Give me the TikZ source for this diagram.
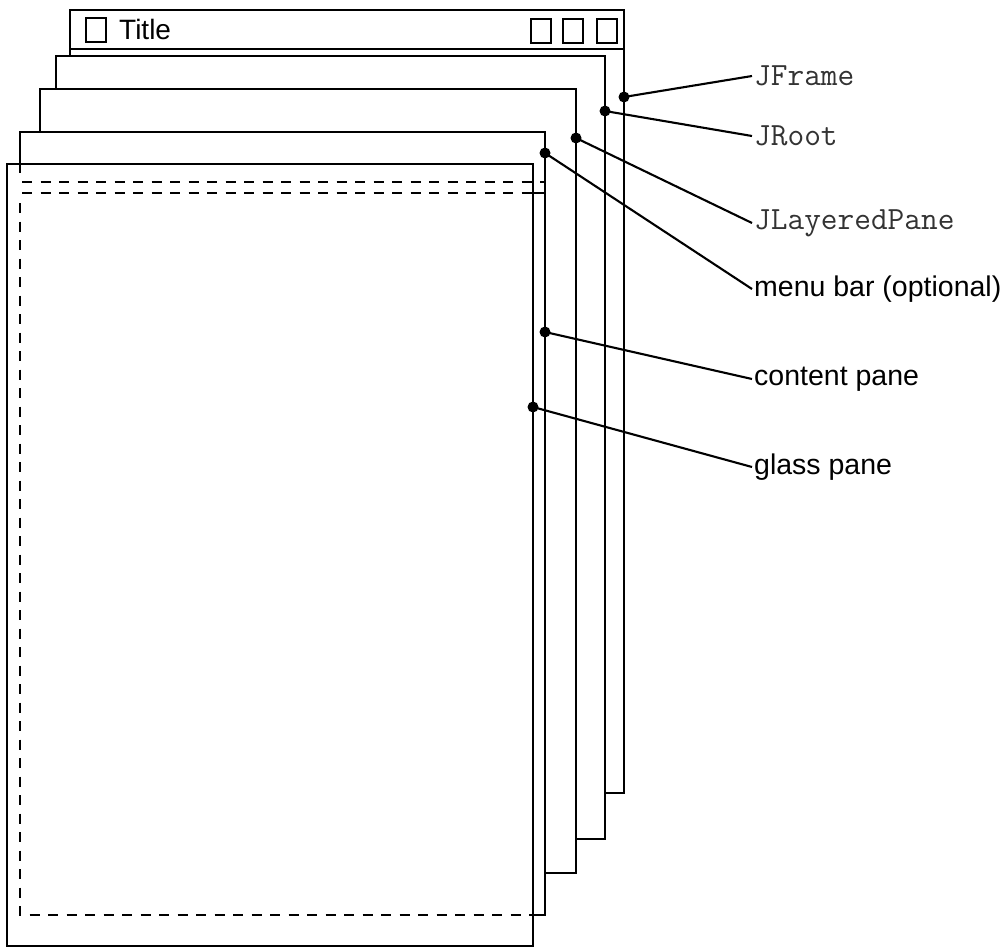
\documentclass[tikz,border=0pt]{standalone}
\usepackage{fontspec}
\setmainfont{Liberation Sans}
\begin{document}
\begin{tikzpicture}[x=1pt,y=-1pt,
  pane/.style={draw=black,fill=white,line width=2.1pt},
  icon/.style={draw=black,line width=2.1pt},
  dashline/.style={draw=black,line width=2.6pt,dash pattern=on 10pt off 8.5pt},
  leader/.style={draw=black,line width=2.1pt},
  dotm/.style={fill=black},
  sanslbl/.style={anchor=west,inner sep=0pt,inner xsep=2pt,font=\fontsize{28.5}{30}\selectfont},
  monolbl/.style={anchor=west,inner sep=0pt,inner xsep=2pt,text=black!80,font=\ttfamily\fontsize{32.4}{34}\selectfont}]
\useasboundingbox (0,0) rectangle (1006,947);
% JFrame
\draw[pane] (70,10) rectangle (624,793);
\draw[icon] (70,49) -- (624,49);
\draw[icon] (86,18) rectangle (106,42);
\node[anchor=base west,inner sep=0pt,font=\fontsize{28}{30}\selectfont] (title) at (119,40) {Title};
\draw[icon] (531,19) rectangle (551,43);
\draw[icon] (563,19) rectangle (583,43);
\draw[icon] (597,19) rectangle (617,43);
% JRoot
\draw[pane] (56,56) rectangle (605,839);
% JLayeredPane
\draw[pane] (40,89) rectangle (576,873);
% menu bar / content pane
\draw[pane] (20,132) rectangle (545,915);
\draw[icon] (20,193) -- (545,193);
% glass pane
\draw[pane] (7,164) rectangle (533,946);
% dashed outline of content pane seen through glass pane
\draw[icon] (20,164) -- (20,173);
\draw[dashline] (22,182) -- (545,182);
\draw[dashline] (22,193) -- (533,193);
\draw[dashline] (20,203) -- (20,915) -- (533,915);
% dots
\coordinate (dJF) at (624,97);
\coordinate (dJR) at (605,111);
\coordinate (dJL) at (576,138);
\coordinate (dMB) at (545,153);
\coordinate (dCP) at (545,332);
\coordinate (dGP) at (533,407);
\foreach \d in {dJF,dJR,dJL,dMB,dCP,dGP} \fill[dotm] (\d) circle (5.5pt);
% labels
\node[monolbl] (lJF) at (752,76) {JFrame};
\node[monolbl] (lJR) at (752,136) {JRoot};
\node[monolbl] (lJL) at (752,223) {JLayeredPane};
\node[sanslbl] (lMB) at (752,289) {menu bar (optional)};
\node[sanslbl] (lCP) at (752,379) {content pane};
\node[sanslbl] (lGP) at (752,467) {glass pane};
% leaders
\draw[leader] (dJF) -- (lJF.west);
\draw[leader] (dJR) -- (lJR.west);
\draw[leader] (dJL) -- (lJL.west);
\draw[leader] (dMB) -- (lMB.west);
\draw[leader] (dCP) -- (lCP.west);
\draw[leader] (dGP) -- (lGP.west);
\end{tikzpicture}
\end{document}
